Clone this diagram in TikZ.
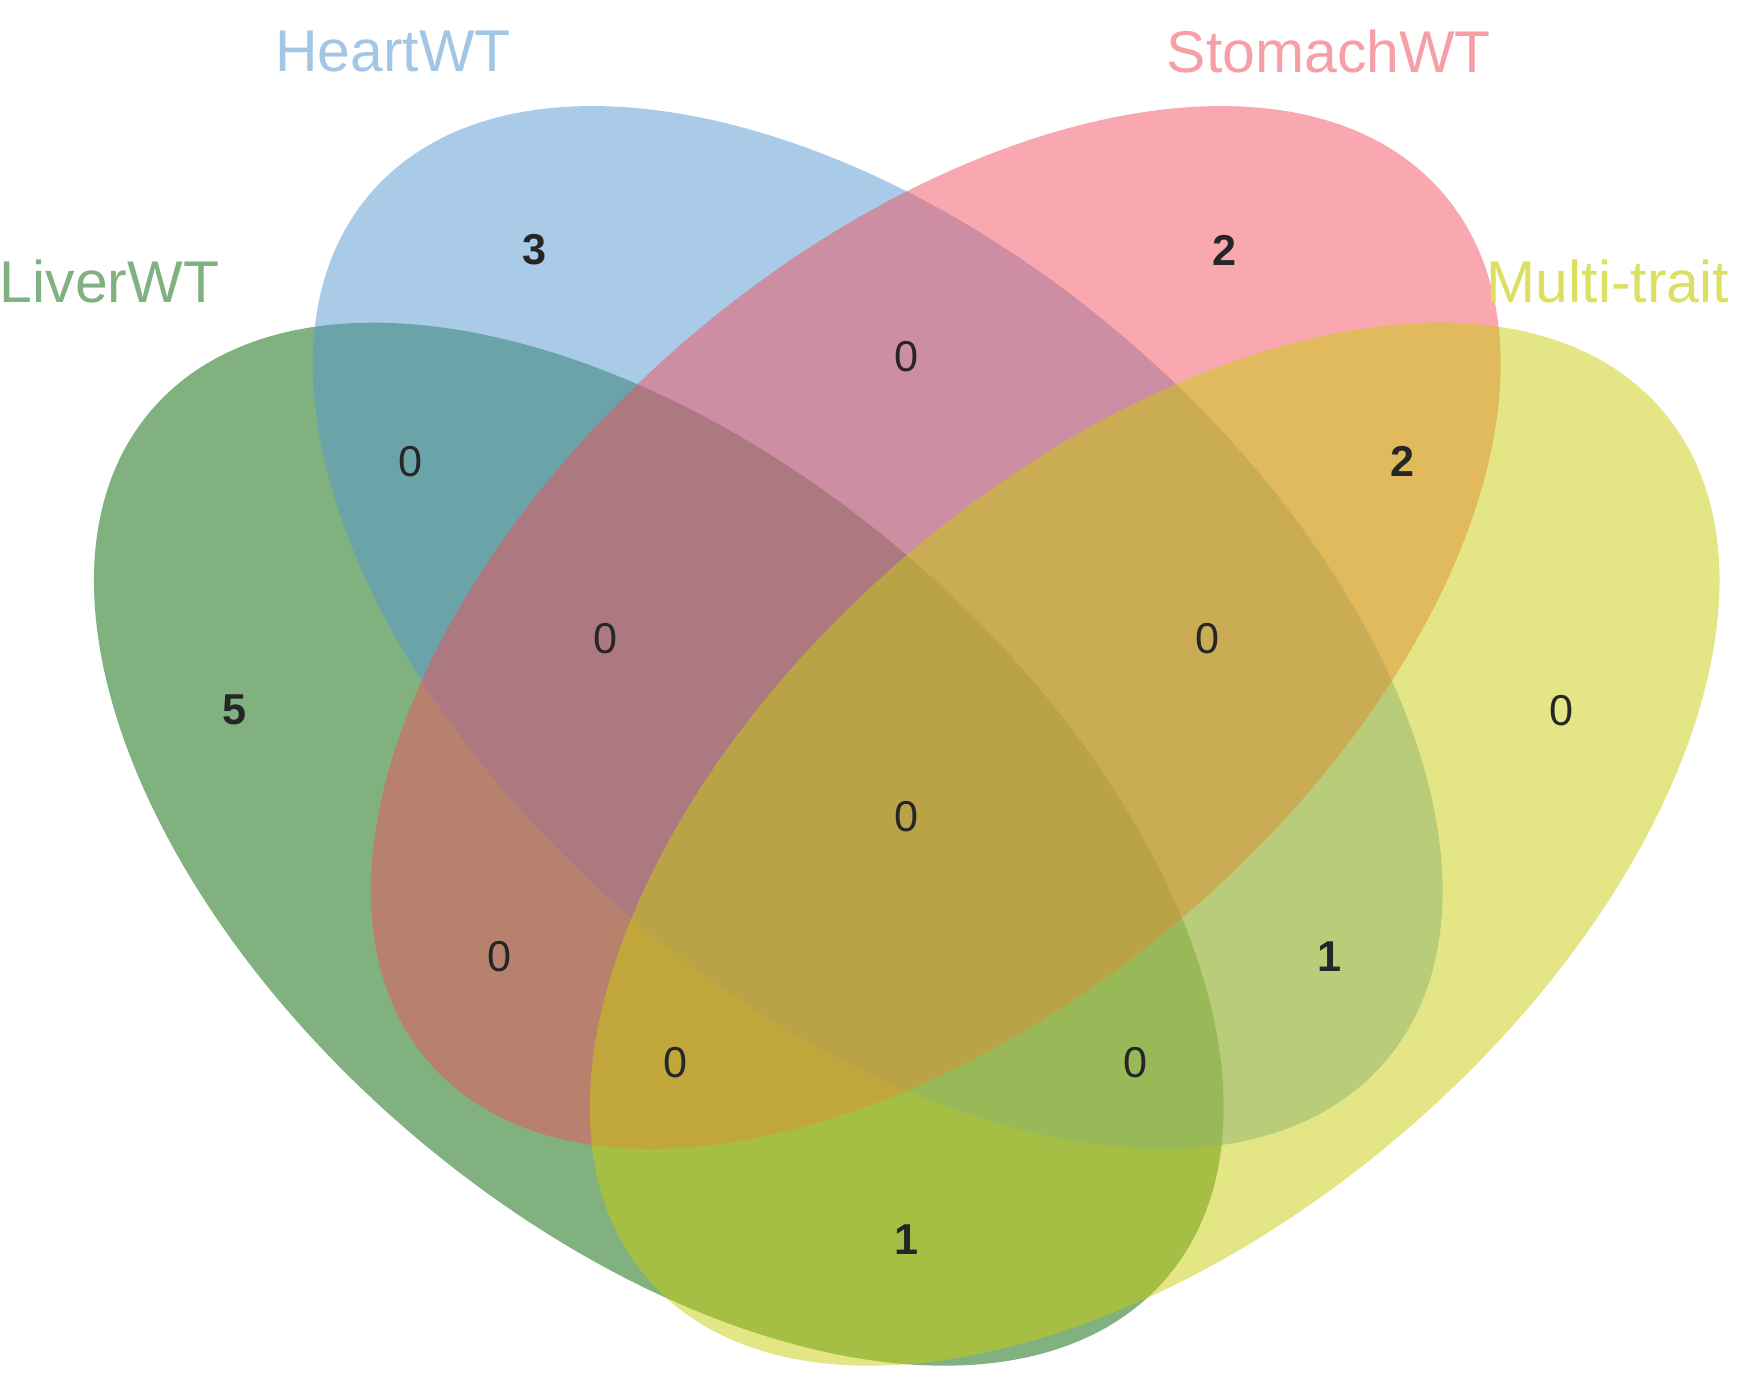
\documentclass[tikz,border=0pt]{standalone}
\usepackage{fontspec}
\setmainfont{Liberation Sans}
\begin{document}
\begin{tikzpicture}[x=0.01cm,y=-0.01cm]
\definecolor{cg}{RGB}{1,100,0}
\definecolor{cb}{RGB}{85,151,209}
\definecolor{cp}{RGB}{241,81,93}
\definecolor{cy}{RGB}{201,205,11}
\tikzset{ell/.style={fill opacity=0.5,draw=none},
 num/.style={font=\fontsize{11}{13}\selectfont,text=black!85},
 bnum/.style={num,font=\fontsize{11}{13}\selectfont\bfseries},
 lab/.style={font=\fontsize{15}{18}\selectfont}}
\useasboundingbox (0,0) rectangle (1560,1237);
\fill[ell,cg] (590,756) ellipse[x radius=598,y radius=341,rotate=-40.5];
\fill[ell,cb] (786,562) ellipse[x radius=598,y radius=341,rotate=-40.5];
\fill[ell,cp] (838,562) ellipse[x radius=598,y radius=341,rotate=40.5];
\fill[ell,cy] (1034,756) ellipse[x radius=598,y radius=341,rotate=40.5];
\node[lab,text=cg!50] (l1) at (98,252) {LiverWT};
\node[lab,text=cb!55] (l2) at (352,46) {HeartWT};
\node[lab,text=cp!55] (l3) at (1190,46) {StomachWT};
\node[lab,text=cy!65] (l4) at (1440,252) {Multi-trait};
\node[bnum] (n1) at (210,636) {5};
\node[bnum] (n2) at (479,224) {3};
\node[bnum] (n3) at (1097,224) {2};
\node[num] (n4) at (1398,636) {0};
\node[num] (n5) at (368,413) {0};
\node[num] (n6) at (812,319) {0};
\node[bnum] (n7) at (1256,413) {2};
\node[num] (n8) at (542,572) {0};
\node[num] (n9) at (1081,572) {0};
\node[num] (n10) at (812,731) {0};
\node[num] (n11) at (447,857) {0};
\node[bnum] (n12) at (1191,857) {1};
\node[num] (n13) at (605,952) {0};
\node[num] (n14) at (1017,952) {0};
\node[bnum] (n15) at (812,1110) {1};
\end{tikzpicture}
\end{document}
